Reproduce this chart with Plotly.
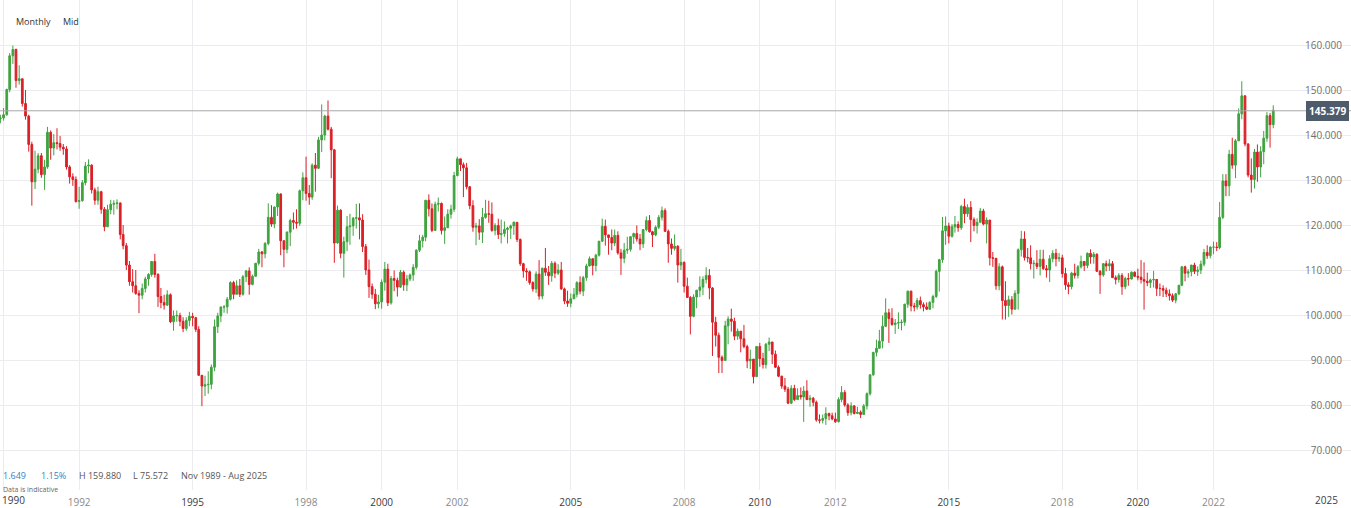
import pandas as pd
import plotly.graph_objects as go

# ---------------- data (monthly USD/JPY mid, Nov 1989 - Aug 2023) ----------------
first_open = 142.0
closes = [
    # 1989 Nov-Dec
    143.6, 143.8,
    # 1990
    144.5, 150.1, 157.6, 159.0, 152.1, 152.5, 147.0, 144.2, 137.9, 129.6, 132.4, 135.4,
    # 1991
    131.2, 132.9, 140.6, 137.1, 138.3, 138.1, 137.3, 136.9, 132.9, 130.7, 130.1, 125.2,
    # 1992
    125.4, 129.4, 133.1, 133.3, 127.8, 125.5, 127.4, 123.5, 119.6, 123.4, 124.6, 124.8,
    # 1993
    124.9, 117.9, 115.4, 111.1, 107.4, 106.5, 104.8, 104.4, 105.9, 108.0, 109.0, 111.9,
    # 1994
    109.0, 104.1, 102.8, 102.2, 104.5, 98.5, 99.8, 99.9, 98.6, 97.0, 98.8, 99.7,
    # 1995
    99.4, 96.8, 86.6, 84.2, 84.5, 84.6, 88.4, 97.4, 99.8, 101.8, 101.8, 103.5,
    # 1996
    107.2, 104.6, 106.5, 104.6, 108.5, 109.8, 106.8, 108.6, 111.5, 114.0, 113.6, 115.9,
    # 1997
    121.7, 120.2, 124.0, 126.9, 116.5, 114.6, 118.4, 121.0, 120.6, 120.4, 127.6, 130.5,
    # 1998
    127.0, 126.2, 133.3, 132.6, 138.9, 140.0, 144.2, 141.3, 136.7, 116.0, 123.3, 113.7,
    # 1999
    116.3, 119.6, 119.8, 121.5, 121.6, 121.1, 115.2, 110.0, 106.3, 104.6, 102.5, 102.9,
    # 2000
    107.3, 110.2, 102.7, 108.1, 107.7, 106.2, 109.5, 106.7, 108.0, 108.9, 110.6, 114.4,
    # 2001
    116.5, 117.3, 125.5, 123.6, 118.8, 124.6, 124.8, 118.8, 119.4, 122.4, 123.5, 131.0,
    # 2002
    134.7, 133.4, 132.7, 128.5, 124.3, 119.5, 119.8, 118.4, 121.7, 122.5, 122.4, 118.8,
    # 2003
    119.9, 117.9, 118.1, 119.0, 119.3, 119.8, 120.6, 116.8, 111.4, 109.8, 109.6, 107.2,
    # 2004
    105.8, 109.1, 104.2, 110.4, 109.5, 108.7, 111.5, 109.3, 110.0, 105.8, 103.1, 102.6,
    # 2005
    103.6, 104.6, 107.2, 105.3, 108.3, 110.9, 112.5, 111.0, 113.3, 116.4, 119.7, 117.8,
    # 2006
    117.2, 116.0, 117.7, 113.8, 112.6, 114.4, 114.6, 117.4, 118.1, 116.9, 115.8, 119.0,
    # 2007
    121.0, 118.5, 117.8, 119.5, 121.7, 123.2, 118.6, 115.8, 114.8, 115.3, 111.1, 111.7,
    # 2008
    106.4, 103.9, 99.7, 104.0, 105.5, 106.2, 107.9, 108.8, 106.0, 98.4, 95.5, 90.6,
    # 2009
    89.9, 97.6, 99.1, 98.6, 95.3, 96.4, 94.7, 93.0, 89.8, 90.2, 86.3, 93.0,
    # 2010
    90.3, 89.0, 93.5, 94.0, 91.3, 88.4, 86.4, 84.2, 83.5, 80.4, 83.7, 81.2,
    # 2011
    82.1, 81.8, 83.1, 81.2, 81.5, 80.6, 76.7, 76.6, 77.0, 78.1, 77.6, 76.9,
    # 2012
    76.3, 81.2, 82.8, 80.0, 78.3, 79.8, 78.1, 78.4, 77.9, 79.8, 82.5, 86.7,
    # 2013
    91.7, 92.6, 94.2, 97.5, 100.5, 99.2, 97.9, 98.2, 98.3, 98.4, 102.4, 105.3,
    # 2014
    102.0, 101.8, 103.2, 102.3, 101.8, 101.3, 102.8, 104.1, 109.7, 112.3, 118.7, 119.8,
    # 2015
    117.5, 119.6, 120.1, 119.4, 124.1, 122.5, 123.9, 121.2, 119.9, 120.6, 123.1, 120.2,
    # 2016
    121.1, 112.7, 112.6, 106.5, 110.7, 103.2, 102.1, 103.4, 101.3, 104.8, 114.5, 116.9,
    # 2017
    112.8, 112.7, 111.4, 111.5, 110.8, 112.4, 110.3, 110.0, 112.5, 113.7, 112.5, 112.7,
    # 2018
    109.2, 106.7, 106.3, 109.3, 108.8, 110.7, 111.9, 111.0, 113.7, 112.9, 113.5, 109.7,
    # 2019
    108.9, 111.4, 110.9, 111.4, 108.3, 107.9, 108.8, 106.3, 108.1, 108.0, 109.5, 108.6,
    # 2020
    108.4, 107.9, 107.5, 107.2, 107.8, 107.9, 105.9, 105.9, 105.5, 104.7, 104.3, 103.3,
    # 2021
    104.7, 106.6, 110.7, 109.3, 109.6, 111.1, 109.7, 110.0, 111.3, 113.9, 113.2, 115.1,
    # 2022
    115.1, 115.0, 121.7, 129.8, 128.7, 135.7, 133.3, 138.7, 144.7, 148.7, 138.0, 131.1,
    # 2023 Jan-Aug
    130.1, 136.2, 132.9, 136.3, 139.3, 144.3, 142.3, 145.5,
]
highs = [
    144.3, 144.5,
    146.0, 150.3, 158.2, 159.88, 159.2, 155.5, 152.5, 150.0, 144.5, 138.5, 136.5, 136.0,
    136.0, 134.5, 141.8, 141.0, 140.2, 141.5, 139.8, 138.0, 137.5, 133.3, 131.5, 130.8,
    128.5, 130.0, 134.0, 134.6, 133.5, 128.3, 128.5, 127.6, 124.0, 124.5, 125.6, 125.5,
    125.7, 125.0, 120.0, 116.0, 112.0, 110.2, 110.0, 105.5, 107.0, 108.5, 109.3, 112.0,
    113.6, 109.3, 106.0, 104.5, 105.5, 104.8, 101.0, 101.0, 100.5, 99.5, 99.5, 100.7,
    100.5, 99.6, 97.5, 86.0, 86.5, 87.5, 89.0, 99.0, 100.5, 101.8, 102.2, 104.0,
    107.5, 107.6, 107.7, 108.0, 108.9, 110.0, 110.6, 109.0, 111.5, 114.7, 114.2, 116.2,
    124.8, 124.4, 124.1, 127.2, 127.0, 116.6, 118.6, 121.4, 122.8, 123.5, 127.9, 131.7,
    135.2, 128.9, 133.7, 136.0, 139.6, 146.8, 144.5, 147.66, 141.8, 136.9, 124.3, 123.5,
    117.4, 122.0, 122.5, 121.8, 124.7, 124.8, 122.4, 115.8, 112.3, 107.0, 105.8, 104.5,
    107.9, 111.8, 111.4, 108.7, 109.9, 108.3, 110.0, 109.9, 108.9, 109.2, 111.3, 114.6,
    117.8, 117.8, 125.5, 126.8, 124.8, 125.2, 126.1, 125.0, 121.9, 123.5, 124.5, 131.8,
    135.2, 134.7, 133.9, 133.8, 128.6, 125.5, 120.5, 121.3, 123.8, 125.6, 125.4, 125.0,
    120.4, 121.4, 121.2, 120.8, 119.6, 120.1, 120.8, 120.6, 117.0, 111.6, 110.4, 109.9,
    107.5, 109.7, 112.2, 110.5, 114.9, 110.9, 112.0, 111.9, 111.3, 111.8, 106.1, 105.4,
    104.8, 106.0, 107.5, 108.6, 108.7, 111.4, 113.0, 112.0, 113.6, 116.4, 121.4, 121.2,
    117.8, 119.0, 119.0, 118.6, 114.7, 116.0, 117.4, 117.5, 118.3, 119.9, 118.0, 119.0,
    121.9, 122.2, 118.7, 119.9, 122.2, 124.1, 123.7, 119.0, 117.0, 117.9, 115.5, 114.7,
    111.9, 108.3, 104.2, 104.6, 105.6, 108.6, 108.6, 110.6, 110.2, 106.2, 99.6, 96.1,
    91.0, 98.7, 99.7, 101.4, 99.4, 97.0, 95.8, 97.8, 93.4, 92.3, 90.2, 93.1,
    93.8, 91.6, 93.8, 94.99, 94.0, 92.1, 88.8, 86.5, 86.0, 84.0, 84.4, 84.5,
    83.7, 83.9, 84.2, 85.5, 82.2, 81.8, 81.0, 77.9, 77.9, 79.5, 78.3, 78.3,
    78.3, 81.7, 84.2, 83.3, 80.4, 80.6, 80.0, 79.6, 78.8, 80.2, 82.8, 86.8,
    91.8, 94.5, 96.7, 99.9, 103.7, 101.4, 101.5, 99.1, 100.6, 99.0, 102.5, 105.4,
    105.4, 102.7, 103.8, 104.1, 102.8, 102.8, 103.1, 104.5, 110.1, 112.5, 121.8, 121.9,
    120.5, 120.2, 122.0, 120.8, 124.5, 125.86, 124.6, 125.3, 121.7, 121.5, 123.8, 123.6,
    121.7, 121.0, 114.0, 112.0, 111.5, 111.0, 107.5, 104.3, 104.2, 105.5, 114.8, 118.7,
    118.6, 114.9, 115.5, 112.2, 114.4, 114.5, 114.5, 111.1, 113.3, 114.4, 114.7, 113.8,
    113.4, 110.5, 107.3, 109.6, 111.4, 111.1, 113.2, 111.8, 113.9, 114.6, 114.0, 113.7,
    110.0, 111.5, 112.1, 112.4, 112.0, 108.8, 109.3, 109.3, 108.5, 109.3, 109.7, 109.7,
    110.3, 112.2, 111.7, 109.4, 108.1, 109.8, 107.8, 107.0, 106.6, 106.1, 105.7, 104.8,
    104.9, 106.7, 110.9, 110.96, 110.2, 111.1, 111.6, 110.8, 112.1, 114.7, 115.5, 115.2,
    116.3, 116.2, 125.1, 131.3, 131.3, 136.7, 139.4, 139.1, 145.9, 151.95, 148.8, 138.2,
    134.8, 136.9, 137.9, 137.5, 140.9, 145.1, 144.9, 146.6,
]
lows = [
    141.5, 142.6,
    143.2, 144.3, 149.5, 155.8, 150.5, 151.2, 146.3, 143.4, 136.3, 124.3, 128.0, 131.5,
    130.5, 127.8, 132.5, 134.5, 135.5, 136.8, 136.5, 135.6, 132.3, 129.2, 128.7, 125.0,
    123.6, 125.2, 128.8, 131.5, 127.0, 124.5, 124.5, 122.5, 118.6, 119.6, 122.4, 122.3,
    123.5, 116.8, 114.6, 110.0, 106.5, 105.0, 104.5, 100.4, 103.5, 105.0, 106.5, 108.5,
    108.3, 101.8, 101.5, 101.2, 102.0, 98.2, 96.5, 98.5, 97.5, 96.2, 96.5, 97.5,
    97.5, 96.2, 86.5, 79.75, 82.0, 82.5, 83.5, 87.5, 96.0, 98.4, 100.5, 100.3,
    103.2, 103.5, 104.6, 104.0, 104.3, 107.3, 104.5, 106.6, 108.6, 111.0, 110.6, 112.6,
    115.5, 119.6, 119.3, 122.0, 113.3, 110.6, 113.7, 115.3, 119.0, 119.2, 119.8, 125.5,
    125.4, 124.5, 125.6, 127.4, 132.5, 136.2, 138.8, 141.0, 130.4, 111.6, 115.9, 112.6,
    108.3, 114.2, 115.6, 117.6, 119.2, 116.8, 114.0, 108.9, 103.8, 103.6, 101.3, 101.5,
    101.4, 105.4, 102.0, 102.3, 105.3, 104.1, 106.0, 105.4, 105.3, 107.5, 107.6, 110.1,
    114.0, 115.0, 116.4, 121.9, 118.4, 118.9, 123.0, 117.9, 115.8, 119.3, 121.4, 122.9,
    130.8, 132.0, 126.2, 127.9, 123.5, 118.5, 115.5, 116.7, 116.0, 121.4, 120.5, 118.5,
    117.7, 116.9, 115.9, 117.4, 115.9, 116.9, 117.8, 116.2, 110.9, 108.3, 107.6, 106.7,
    105.2, 104.9, 103.4, 103.5, 108.7, 106.7, 107.4, 108.2, 108.9, 105.6, 102.4, 101.8,
    101.7, 103.7, 103.9, 104.6, 104.2, 107.6, 110.8, 108.8, 109.7, 113.0, 116.3, 115.4,
    113.4, 114.4, 115.3, 113.4, 108.9, 111.5, 113.6, 114.1, 115.8, 116.3, 114.4, 114.9,
    118.6, 118.3, 115.1, 117.5, 119.1, 121.0, 118.5, 111.6, 113.4, 114.3, 107.2, 110.0,
    105.0, 103.9, 95.7, 99.5, 101.5, 104.0, 104.4, 107.0, 103.5, 90.9, 93.0, 87.1,
    87.1, 89.9, 93.5, 96.3, 94.4, 94.5, 91.7, 92.6, 88.2, 88.0, 84.8, 86.3,
    88.5, 88.1, 88.1, 92.0, 89.1, 88.2, 86.2, 83.6, 82.9, 80.2, 80.2, 80.9,
    81.2, 81.2, 76.25, 81.1, 79.6, 79.7, 76.3, 75.9, 75.9, 75.572, 76.6, 76.6,
    76.0, 76.1, 80.6, 79.6, 77.6, 77.7, 77.9, 78.0, 77.1, 77.8, 79.0, 82.1,
    86.5, 90.8, 92.6, 92.6, 97.3, 93.8, 97.6, 95.8, 96.9, 96.6, 97.6, 101.6,
    100.8, 100.8, 101.2, 101.4, 100.8, 101.1, 101.1, 101.5, 103.8, 105.2, 111.6, 115.6,
    115.9, 117.2, 118.3, 118.5, 118.9, 120.4, 121.8, 116.2, 118.6, 118.1, 120.6, 119.9,
    115.9, 110.99, 110.7, 105.6, 105.5, 99.0, 99.0, 99.6, 100.1, 101.2, 101.2, 113.0,
    112.1, 111.7, 110.1, 108.1, 110.2, 108.8, 110.0, 108.3, 107.3, 111.7, 110.8, 111.8,
    108.3, 105.6, 104.6, 105.7, 108.1, 108.1, 110.3, 109.8, 110.4, 111.4, 111.4, 109.6,
    104.7, 108.5, 109.7, 109.8, 108.3, 106.8, 107.2, 104.5, 105.7, 106.5, 107.9, 108.4,
    107.7, 107.0, 101.18, 106.4, 105.98, 106.1, 104.2, 104.2, 104.0, 104.0, 103.2, 102.9,
    102.6, 104.4, 106.4, 107.5, 108.3, 108.6, 109.1, 108.7, 109.1, 110.8, 112.5, 112.6,
    113.5, 114.2, 114.6, 121.3, 126.4, 126.4, 132.5, 130.4, 138.8, 143.5, 137.5, 130.6,
    127.2, 128.1, 129.6, 130.6, 133.5, 138.5, 137.2, 141.5,
]
opens = [first_open] + closes[:-1]
dates = pd.date_range("1989-11-01", periods=len(closes), freq="MS")

last_price = 145.379
tick_years = [1990, 1992, 1995, 1998, 2000, 2002, 2005, 2008, 2010, 2012, 2015, 2018, 2020, 2022, 2025]
edge_years = [1990, 2025]
y_ticks = [70, 80, 90, 100, 110, 120, 130, 140, 150, 160]

# ---------------- styling ----------------
GREEN = "#3fa33f"
RED = "#dc1f26"
GRID = "#ececf0"
FONT = "Open Sans"
DARK_YEAR = "#3c3c3c"
LIGHT_YEAR = "#8a8a8a"

fig = go.Figure()
fig.add_trace(go.Candlestick(
    x=dates, open=opens, high=highs, low=lows, close=closes,
    increasing=dict(line=dict(color=GREEN, width=1), fillcolor=GREEN),
    decreasing=dict(line=dict(color=RED, width=1), fillcolor=RED),
    whiskerwidth=0, showlegend=False, hoverinfo="skip",
))

tickvals = [pd.Timestamp(f"{y}-01-01") for y in tick_years]
ticktext = []
for y in tick_years:
    if y in edge_years:
        ticktext.append("")
    elif y % 5 == 0:
        ticktext.append(f"<span style='color:{DARK_YEAR}'>{y}</span>")
    else:
        ticktext.append(f"<span style='color:{LIGHT_YEAR}'>{y}</span>")

fig.update_layout(
    width=1351, height=508,
    margin=dict(l=0, r=0, t=0, b=18),
    paper_bgcolor="white", plot_bgcolor="white",
    font=dict(family=FONT, size=10, color="#444"),
    boxgap=0.15,
    xaxis=dict(
        type="date", range=["1989-11-27 12:00", "2025-08-21"],
        rangeslider=dict(visible=False),
        tickvals=tickvals, ticktext=ticktext,
        showgrid=True, gridcolor=GRID, gridwidth=1,
        zeroline=False, showline=False,
        ticks="outside", ticklen=3, tickcolor="rgba(0,0,0,0)",
        tickfont=dict(size=10, family=FONT),
    ),
    yaxis=dict(
        range=[61.11, 170], side="right", ticklabelposition="inside",
        tickvals=y_ticks, tickformat=".3f",
        showgrid=True, gridcolor=GRID, gridwidth=1,
        zeroline=False, showline=False,
        ticks="inside", ticklen=8, tickcolor="rgba(0,0,0,0)",
        tickfont=dict(size=10, family=FONT, color="#707070"),
    ),
)

# current price line and tag
fig.add_hline(y=last_price, line=dict(color="#a8a8a8", width=1))
fig.add_annotation(
    xref="paper", yref="y", x=0.9985, y=last_price, xanchor="right", yanchor="middle",
    text=f"<b>{last_price:.3f}</b>", showarrow=False,
    font=dict(size=10, color="white", family=FONT),
    bgcolor="#4d5b6b", bordercolor="#4d5b6b", borderpad=2,
)

# edge year labels (kept on-canvas like the original)
fig.add_annotation(
    xref="x", yref="paper", x=tickvals[0], y=0, yshift=-10,
    xanchor="left", yanchor="middle", xshift=-4,
    text=f"<span style='color:{DARK_YEAR}'>1990</span>", showarrow=False,
    font=dict(size=10, family=FONT),
)
fig.add_annotation(
    xref="x", yref="paper", x=tickvals[-1], y=0, yshift=-10,
    xanchor="center", yanchor="middle",
    text=f"<span style='color:{DARK_YEAR}'>2025</span>", showarrow=False,
    font=dict(size=10, family=FONT),
)

PH = 490.0
def py(p):
    return (PH - p) / PH

def label(x, y, text, size=9, color="#444"):
    fig.add_annotation(xref="paper", yref="paper", x=x / 1351, y=py(y),
                       xanchor="left", yanchor="middle", text=text, showarrow=False,
                       font=dict(size=size, color=color, family=FONT))

label(14, 22, "Monthly", 9, "#333333")
label(61, 22, "Mid", 9, "#333333")
label(1, 475, "1.649", 9, "#3a7fc1")
label(39, 475, "1.15%", 9, "#3a7fc1")
label(77, 475, "H 159.880", 9, "#555555")
label(131, 475, "L 75.572", 9, "#555555")
label(179, 475, "Nov 1989 - Aug 2025", 9, "#555555")
label(1, 489, "Data is indicative", 7, "#666666")

fig.write_html("out.html")
